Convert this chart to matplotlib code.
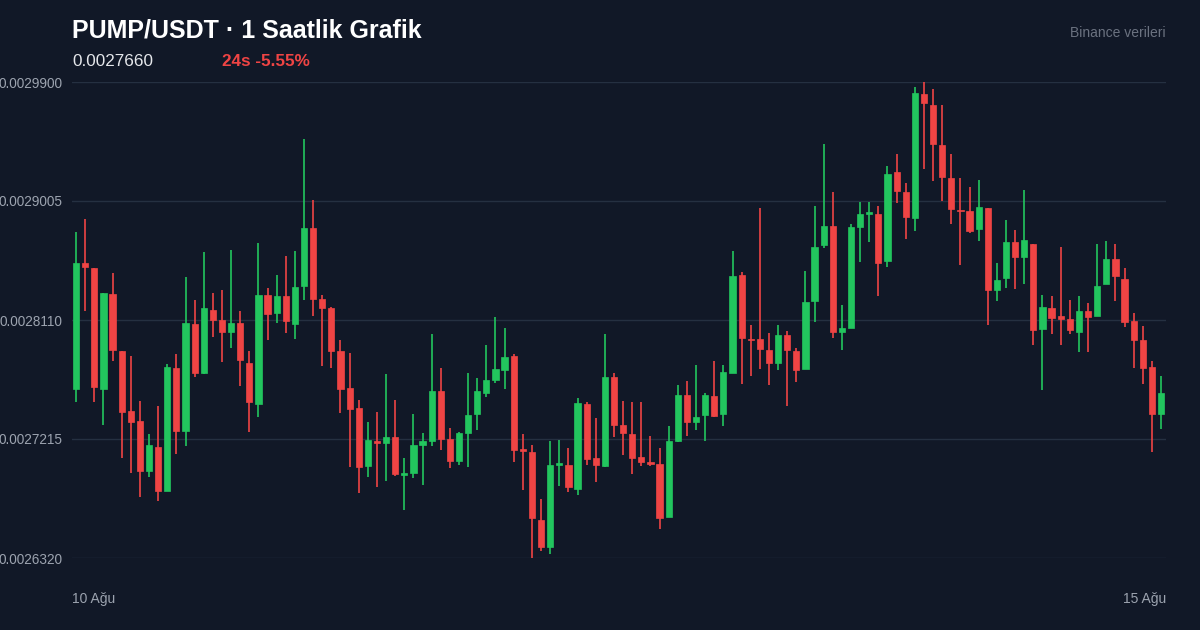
import matplotlib
matplotlib.use("Agg")
import matplotlib.pyplot as plt

# hourly candles, 10 Ağu -> 15 Ağu (120 bars)
opens = [0.0027591, 0.0028539, 0.0028501, 0.0027591, 0.0028306, 0.0027877, 0.0027426, 0.0027350, 0.0026974, 0.0027155,
         0.0026824, 0.0027749, 0.0027275, 0.0028080, 0.0027711, 0.0028185, 0.0028110, 0.0028020, 0.0028087, 0.0027787,
         0.0027478, 0.0028298, 0.0028163, 0.0028290, 0.0028080, 0.0028366, 0.0028802, 0.0028268, 0.0028200, 0.0027877,
         0.0027599, 0.0027448, 0.0027012, 0.0027200, 0.0027185, 0.0027230, 0.0026944, 0.0026959, 0.0027170, 0.0027200,
         0.0027576, 0.0027215, 0.0027050, 0.0027260, 0.0027403, 0.0027561, 0.0027659, 0.0027734, 0.0027839, 0.0027140,
         0.0027117, 0.0026606, 0.0026403, 0.0027019, 0.0027019, 0.0026839, 0.0027478, 0.0027072, 0.0027012, 0.0027681,
         0.0027320, 0.0027253, 0.0027080, 0.0027042, 0.0027027, 0.0026628, 0.0027200, 0.0027546, 0.0027343, 0.0027396,
         0.0027538, 0.0027403, 0.0027711, 0.0028448, 0.0027967, 0.0027967, 0.0027884, 0.0027787, 0.0027997, 0.0027877,
         0.0027741, 0.0028253, 0.0028674, 0.0028817, 0.0028020, 0.0028050, 0.0028809, 0.0028907, 0.0028907, 0.0028554,
         0.0029223, 0.0029073, 0.0028877, 0.0029810, 0.0029727, 0.0029426, 0.0029178, 0.0028937, 0.0028930, 0.0028794,
         0.0028952, 0.0028336, 0.0028426, 0.0028697, 0.0028584, 0.0028682, 0.0028042, 0.0028200, 0.0028140, 0.0028117,
         0.0028020, 0.0028178, 0.0028140, 0.0028381, 0.0028569, 0.0028418, 0.0028102, 0.0027960, 0.0027757, 0.0027403]
highs = [0.0028772, 0.0028870, 0.0028501, 0.0028313, 0.0028463, 0.0027877, 0.0027839, 0.0027501, 0.0027253, 0.0027463,
         0.0027779, 0.0027854, 0.0028433, 0.0028260, 0.0028621, 0.0028313, 0.0028336, 0.0028636, 0.0028178, 0.0027877,
         0.0028689, 0.0028351, 0.0028448, 0.0028591, 0.0028629, 0.0029471, 0.0029012, 0.0028298, 0.0028208, 0.0027960,
         0.0027862, 0.0027508, 0.0027343, 0.0027418, 0.0027704, 0.0027508, 0.0027072, 0.0027403, 0.0027260, 0.0028005,
         0.0027749, 0.0027298, 0.0027268, 0.0027711, 0.0027674, 0.0027922, 0.0028133, 0.0028050, 0.0027854, 0.0027253,
         0.0027170, 0.0026764, 0.0027200, 0.0027208, 0.0027147, 0.0027523, 0.0027493, 0.0027373, 0.0028005, 0.0027711,
         0.0027501, 0.0027493, 0.0027493, 0.0027238, 0.0027147, 0.0027313, 0.0027621, 0.0027651, 0.0027772, 0.0027561,
         0.0027802, 0.0027772, 0.0028629, 0.0028471, 0.0028072, 0.0028952, 0.0028012, 0.0028072, 0.0028027, 0.0027899,
         0.0028479, 0.0028967, 0.0029434, 0.0029073, 0.0028223, 0.0028832, 0.0028997, 0.0028997, 0.0028967, 0.0029268,
         0.0029358, 0.0029140, 0.0029862, 0.0029900, 0.0029847, 0.0029727, 0.0029358, 0.0029178, 0.0029110, 0.0029163,
         0.0028952, 0.0028539, 0.0028862, 0.0028787, 0.0029088, 0.0028682, 0.0028298, 0.0028290, 0.0028659, 0.0028260,
         0.0028290, 0.0028238, 0.0028682, 0.0028704, 0.0028682, 0.0028501, 0.0028163, 0.0028065, 0.0027802, 0.0027689]
lows = [0.0027493, 0.0028178, 0.0027493, 0.0027320, 0.0027802, 0.0027072, 0.0026959, 0.0026779, 0.0026929, 0.0026749,
        0.0026824, 0.0027102, 0.0027162, 0.0027681, 0.0027704, 0.0027982, 0.0027794, 0.0027899, 0.0027614, 0.0027268,
        0.0027380, 0.0027960, 0.0028087, 0.0028012, 0.0027967, 0.0028260, 0.0028140, 0.0027764, 0.0027749, 0.0027411,
        0.0027004, 0.0026809, 0.0026929, 0.0026854, 0.0026899, 0.0026937, 0.0026681, 0.0026922, 0.0026869, 0.0027162,
        0.0027132, 0.0026997, 0.0027019, 0.0027004, 0.0027283, 0.0027531, 0.0027636, 0.0027591, 0.0027042, 0.0026831,
        0.0026320, 0.0026373, 0.0026350, 0.0026862, 0.0026816, 0.0026794, 0.0027019, 0.0026892, 0.0027004, 0.0027230,
        0.0027095, 0.0026952, 0.0027012, 0.0027012, 0.0026538, 0.0026628, 0.0027192, 0.0027238, 0.0027283, 0.0027200,
        0.0027380, 0.0027313, 0.0027711, 0.0027629, 0.0027689, 0.0027741, 0.0027621, 0.0027734, 0.0027463, 0.0027644,
        0.0027741, 0.0028095, 0.0028651, 0.0027975, 0.0027884, 0.0028050, 0.0028546, 0.0028697, 0.0028290, 0.0028509,
        0.0028990, 0.0028719, 0.0028779, 0.0029246, 0.0029155, 0.0029005, 0.0028832, 0.0028524, 0.0028764, 0.0028704,
        0.0028072, 0.0028253, 0.0028351, 0.0028343, 0.0028381, 0.0027922, 0.0027584, 0.0028005, 0.0027922, 0.0028005,
        0.0027869, 0.0027869, 0.0028140, 0.0028381, 0.0028253, 0.0028057, 0.0027749, 0.0027629, 0.0027117, 0.0027290]
closes = [0.0028539, 0.0028509, 0.0027606, 0.0028313, 0.0027884, 0.0027418, 0.0027343, 0.0026974, 0.0027170, 0.0026824,
          0.0027757, 0.0027275, 0.0028087, 0.0027711, 0.0028200, 0.0028110, 0.0028020, 0.0028087, 0.0027809, 0.0027493,
          0.0028298, 0.0028155, 0.0028290, 0.0028102, 0.0028358, 0.0028802, 0.0028268, 0.0028200, 0.0027877, 0.0027591,
          0.0027441, 0.0027004, 0.0027208, 0.0027185, 0.0027230, 0.0026952, 0.0026959, 0.0027170, 0.0027200, 0.0027576,
          0.0027215, 0.0027050, 0.0027260, 0.0027396, 0.0027576, 0.0027659, 0.0027741, 0.0027832, 0.0027132, 0.0027125,
          0.0026621, 0.0026403, 0.0027019, 0.0027034, 0.0026854, 0.0027486, 0.0027065, 0.0027019, 0.0027681, 0.0027320,
          0.0027260, 0.0027072, 0.0027042, 0.0027027, 0.0026621, 0.0027200, 0.0027546, 0.0027343, 0.0027380, 0.0027546,
          0.0027388, 0.0027719, 0.0028441, 0.0027975, 0.0027960, 0.0027892, 0.0027787, 0.0027997, 0.0027884, 0.0027734,
          0.0028245, 0.0028659, 0.0028817, 0.0028020, 0.0028050, 0.0028809, 0.0028907, 0.0028922, 0.0028539, 0.0029208,
          0.0029080, 0.0028885, 0.0029817, 0.0029742, 0.0029434, 0.0029185, 0.0028945, 0.0028930, 0.0028779, 0.0028960,
          0.0028336, 0.0028411, 0.0028697, 0.0028584, 0.0028712, 0.0028035, 0.0028208, 0.0028125, 0.0028117, 0.0028035,
          0.0028178, 0.0028133, 0.0028366, 0.0028569, 0.0028441, 0.0028095, 0.0027960, 0.0027749, 0.0027403, 0.0027561]

y_ticks = [0.0026320, 0.0027215, 0.0028110, 0.0029005, 0.0029900]
y_labels = ["0.0026320", "0.0027215", "0.0028110", "0.0029005", "0.0029900"]
x_labels = ["10 Ağu", "15 Ağu"]

BG = "#111827"
UP = "#22c55e"
DOWN = "#ef4444"
plt.rcParams['font.family'] = ['Liberation Sans', 'DejaVu Sans']

fig = plt.figure(figsize=(12, 6.3), dpi=100, facecolor=BG)
ax = fig.add_axes([72/1200, (630-558)/630, (1166-72)/1200, (558-82)/630])
ax.set_facecolor(BG)

n = len(opens)
for i in range(n):
    o, h, l, c = opens[i], highs[i], lows[i], closes[i]
    col = UP if c >= o else DOWN
    ax.vlines(i, l, h, color=col, lw=1.2, zorder=2)
    body = abs(c - o)
    if body < 0.0000005:
        body = 0.0000005
    ax.bar(i, body, bottom=min(o, c), width=0.68, color=col, edgecolor=col, lw=0.5, zorder=3)

ax.set_xlim(-0.45, n - 0.45)
ax.set_ylim(y_ticks[0], y_ticks[-1])
ax.set_yticks(y_ticks)
ax.set_yticklabels(y_labels)
ax.grid(axis='y', color="#253041", lw=1, zorder=0)
ax.set_axisbelow(True)
ax.set_xticks([])
ax.tick_params(axis='y', length=0, pad=7, labelsize=9.8, labelcolor="#9ca3af")
for s in ax.spines.values():
    s.set_visible(False)
for child in ax.get_children():
    if hasattr(child, "set_clip_on"):
        child.set_clip_on(False)

fig.text(72/1200, 1 - 30/630, "PUMP/USDT · 1 Saatlik Grafik", color="white", fontsize=18,
         fontweight="bold", va="center", ha="left")
fig.text(72/1200, 1 - 61/630, "0.0027660", color="#e5e7eb", fontsize=12.3, va="center", ha="left")
fig.text(222/1200, 1 - 61/630, "24s -5.55%", color=DOWN, fontsize=12.3, fontweight="bold",
         va="center", ha="left")
fig.text(1166/1200, 1 - 33/630, "Binance verileri", color="#6b7280", fontsize=10, va="center", ha="right")
fig.text(72/1200, 1 - 599/630, x_labels[0], color="#9ca3af", fontsize=10, va="center", ha="left")
fig.text(1166/1200, 1 - 599/630, x_labels[1], color="#9ca3af", fontsize=10, va="center", ha="right")

fig.savefig("out.png", dpi=100, facecolor=BG)
